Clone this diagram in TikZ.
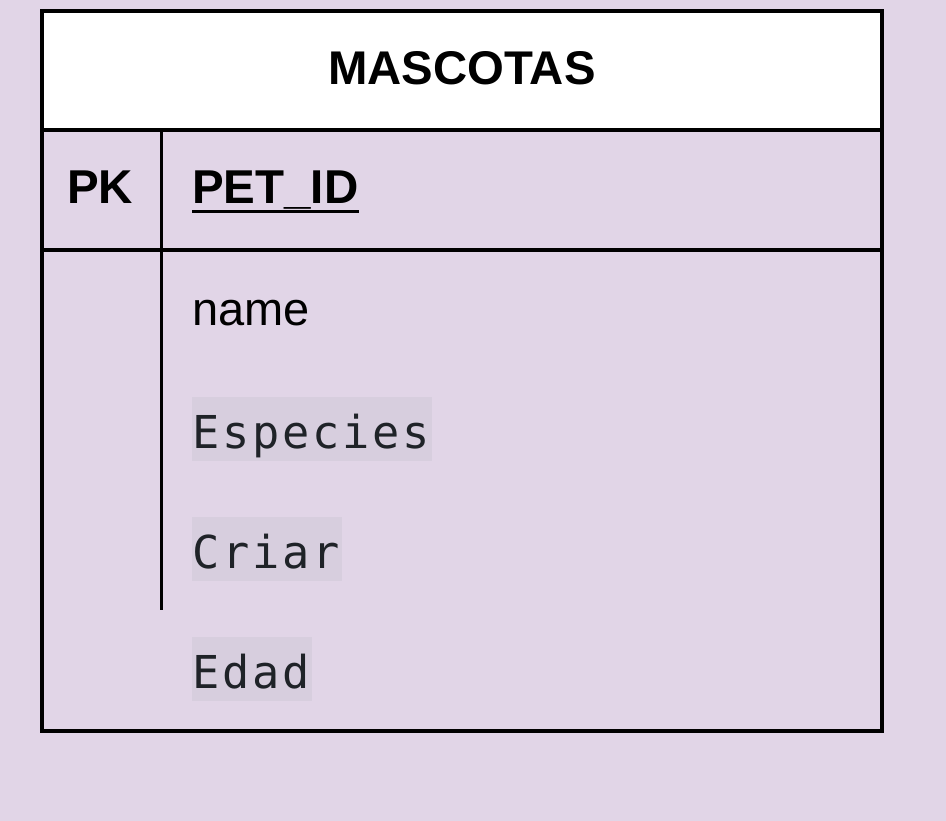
\documentclass[tikz,border=0pt]{standalone}
\usepackage{fontspec}
\setmainfont{Liberation Sans}
\newfontfamily\codefont{DejaVu Sans Mono}
\definecolor{bgc}{RGB}{225,213,231}
\definecolor{hlc}{RGB}{215,206,222}
\definecolor{codec}{RGB}{31,35,40}
\newcommand\mch[1]{\makebox[30pt][l]{#1}}
\begin{document}
\begin{tikzpicture}[x=1pt,y=-1pt,
  border/.style={line width=4pt,draw=black},
  divider/.style={line width=3.5pt,draw=black},
  titletext/.style={font=\fontsize{47.3}{56}\selectfont\bfseries,inner sep=0pt,anchor=base},
  boldtext/.style={font=\fontsize{47.5}{56}\selectfont\bfseries,inner sep=0pt},
  plaintext/.style={font=\fontsize{47}{56}\selectfont,inner sep=0pt,anchor=base west},
  codetext/.style={font=\fontsize{45.3}{56}\selectfont\codefont,text=codec,fill=hlc,
    inner xsep=0pt,inner ysep=0pt,text height=51pt,text depth=13pt,anchor=base west}]
\useasboundingbox (0,0) rectangle (946,821);
\fill[bgc] (0,0) rectangle (946,821);
% header
\fill[white] (42,11) rectangle (882,130);
\node[titletext] (title) at (462,85) {MASCOTAS};
% PK row
\node[boldtext,anchor=base] (pk) at (100,204) {PK};
\node[boldtext,anchor=base west] (pet) at (192,204) {PET\_ID};
\draw[line width=3.6pt] ([yshift=-7.5pt]pet.base west) -- ([yshift=-7.5pt]pet.base east);
% attributes
\node[plaintext] (name) at (192,326) {name};
\node[codetext] (esp) at (192,448) {\mch{E}\mch{s}\mch{p}\mch{e}\mch{c}\mch{i}\mch{e}\mch{s}};
\node[codetext] (cri) at (192,568) {\mch{C}\mch{r}\mch{i}\mch{a}\mch{r}};
\node[codetext] (eda) at (192,688) {\mch{E}\mch{d}\mch{a}\mch{d}};
% lines
\draw[divider] (42,130) -- (882,130);
\draw[divider] (42,250) -- (882,250);
\draw[divider] (161.5,130) -- (161.5,610);
\draw[border] (42,11) rectangle (882,731);
\end{tikzpicture}
\end{document}
